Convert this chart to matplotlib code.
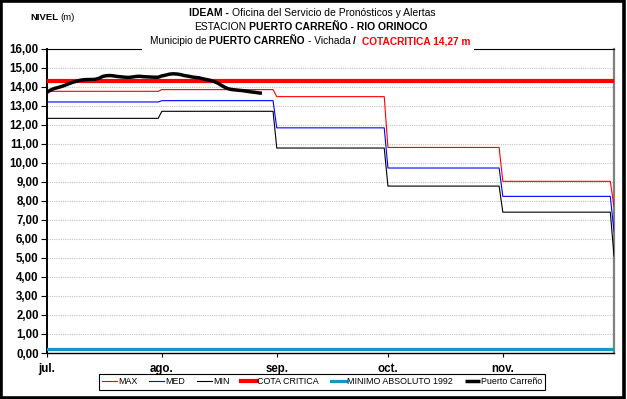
import numpy as np
import matplotlib
matplotlib.use("Agg")
import matplotlib.pyplot as plt
from matplotlib.font_manager import fontManager
from matplotlib.patches import Rectangle
from matplotlib.ticker import FuncFormatter, MultipleLocator

# ---- data -------------------------------------------------------------
months = ["jul.", "ago.", "sep.", "oct.", "nov."]
month_days = [31, 31, 30, 31, 30]

# monthly reference levels (m); last entry is the value on 1 December
nivel_max = [13.75, 13.84, 13.47, 10.80, 9.02, 7.70]
nivel_med = [13.19, 13.26, 11.83, 9.72, 8.23, 6.40]
nivel_min = [12.33, 12.70, 10.77, 8.77, 7.40, 5.10]

cota_critica = 14.27
minimo_absoluto_1992 = 0.20

# daily observed level, Puerto Carreño, from 1 July
puerto_carreno = [
    13.70, 13.82, 13.90, 13.95, 14.01, 14.08, 14.16, 14.23, 14.28, 14.33,
    14.36, 14.37, 14.37, 14.38, 14.43, 14.53, 14.57, 14.58, 14.56, 14.53,
    14.51, 14.49, 14.48, 14.50, 14.53, 14.54, 14.52, 14.51, 14.50, 14.49,
    14.49, 14.56, 14.60, 14.65, 14.67, 14.66, 14.63, 14.58, 14.55, 14.51,
    14.48, 14.46, 14.41, 14.37, 14.33, 14.27, 14.19, 14.07, 13.96, 13.88,
    13.84, 13.82, 13.80, 13.78, 13.75, 13.72, 13.70, 13.67, 13.65,
]

# ---- fonts ------------------------------------------------------------
available = {f.name for f in fontManager.ttflist}
FAM = ["Liberation Sans Narrow", "Liberation Sans", "DejaVu Sans"]
FAM = [f for f in FAM if f in available] or ["DejaVu Sans"]
plt.rcParams["font.family"] = FAM


def daily(levels):
    """Expand monthly levels to one value per day (plus 1 December)."""
    vals = np.repeat(levels[:-1], month_days)
    return np.append(vals, levels[-1])


n_days = sum(month_days)
days = np.arange(n_days + 1)
month_starts = np.concatenate([[0], np.cumsum(month_days)[:-1]])

W, H = 627, 399
fig = plt.figure(figsize=(W / 100, H / 100), dpi=100)
fig.patch.set_facecolor("white")

L, R, T, B = 47, 614, 48.5, 353
ax = fig.add_axes([L / W, 1 - B / H, (R - L) / W, (B - T) / H])

ax.plot(days, daily(nivel_max), color="#ff0000", lw=0.8, label="MAX", zorder=3)
ax.plot(days, daily(nivel_med), color="#0000ff", lw=0.8, label="MED", zorder=3)
ax.plot(days, daily(nivel_min), color="#000000", lw=0.8, label="MIN", zorder=3)
ax.axhline(cota_critica, color="#ff0000", lw=3.0, label="COTA CRITICA", zorder=4)
ax.axhline(minimo_absoluto_1992, color="#1496c8", lw=2.3,
           label="MINIMO ABSOLUTO 1992", zorder=4)
ax.plot(np.arange(len(puerto_carreno)), puerto_carreno, color="#000000",
        lw=2.5, label="Puerto Carreño", zorder=5, solid_capstyle="butt")

ax.set_xlim(0, n_days)
ax.set_ylim(0, 16)
ax.yaxis.set_major_locator(MultipleLocator(1))
ax.yaxis.set_major_formatter(FuncFormatter(lambda v, p: f"{v:.2f}".replace(".", ",")))
ax.set_xticks(month_starts)
ax.set_xticklabels(months)
ax.grid(axis="y", color="#c4c4c4", lw=0.8, ls=(0, (1, 1)))
ax.set_axisbelow(True)

for lab in ax.get_yticklabels() + ax.get_xticklabels():
    lab.set_fontweight("bold")
ax.tick_params(axis="y", labelsize=8.3, length=4, width=0.8, pad=2)
ax.tick_params(axis="x", labelsize=8.3, length=3, width=0.8, pad=4)

ax.spines["left"].set_linewidth(1.4)
ax.spines["bottom"].set_linewidth(1.0)
ax.spines["top"].set_linewidth(0.8)
ax.spines["right"].set_color("#808080")
ax.spines["right"].set_linewidth(1.6)

# white band behind the title, breaking the top frame line
fig.add_artist(Rectangle((142 / W, 1 - 52 / H), (474 - 142) / W, 10 / H,
                         transform=fig.transFigure, facecolor="white",
                         edgecolor="none", zorder=5))

renderer = fig.canvas.get_renderer()


def text_width(s, weight, size):
    t = fig.text(0, 0, s, fontsize=size, fontweight=weight)
    w = t.get_window_extent(renderer).width
    t.remove()
    return w


def rich_line(segments, cx, y, size=7.5, align="center"):
    """Draw text pieces with different weight/colour on one baseline."""
    space = text_width("a a", "normal", size) - text_width("aa", "normal", size)
    widths = []
    for s, wt, c in segments:
        core = s.strip()
        lead = len(s) - len(s.lstrip())
        trail = len(s) - len(s.rstrip())
        widths.append((lead * space, text_width(core, wt, size), trail * space))
    total = sum(a + b + c for a, b, c in widths)
    x = cx - total / 2 if align == "center" else cx
    for (s, wt, c), (a, b, cc) in zip(segments, widths):
        x += a
        fig.text(x / W, 1 - y / H, s.strip(), fontsize=size, fontweight=wt,
                 color=c, ha="left", va="center", zorder=6)
        x += b + cc


rich_line([("IDEAM -", "bold", "black"),
           (" Oficina del Servicio de Pronósticos y Alertas", "normal", "black")],
          312, 12.5)
rich_line([("ESTACION ", "normal", "black"),
           ("PUERTO CARREÑO - RIO ORINOCO", "bold", "black")], 311, 27)
rich_line([("Municipio de ", "normal", "black"),
           ("PUERTO CARREÑO", "bold", "black"),
           (" - Vichada ", "normal", "black"),
           ("/ ", "bold", "black"),
           (" COTACRITICA 14,27 m", "bold", "#ff0000")], 310, 41.5, size=7.3)
rich_line([("NIVEL ", "bold", "black"), ("(m)", "normal", "black")],
          30, 17, size=6.8, align="left")

leg = fig.legend(loc="center", bbox_to_anchor=(322 / W, 1 - 382 / H), ncol=6,
                 fontsize=6.4, handlelength=1.7, handletextpad=0.1,
                 columnspacing=1.35, borderpad=0.35, fancybox=False,
                 framealpha=1, edgecolor="black")
leg.get_frame().set_linewidth(0.8)

# outer frame of the figure
fig.add_artist(Rectangle((0.002, 0.003), 0.994, 0.994, transform=fig.transFigure,
                         facecolor="none", edgecolor="black", lw=2.6, zorder=10))

fig.savefig("out.png", dpi=100)
